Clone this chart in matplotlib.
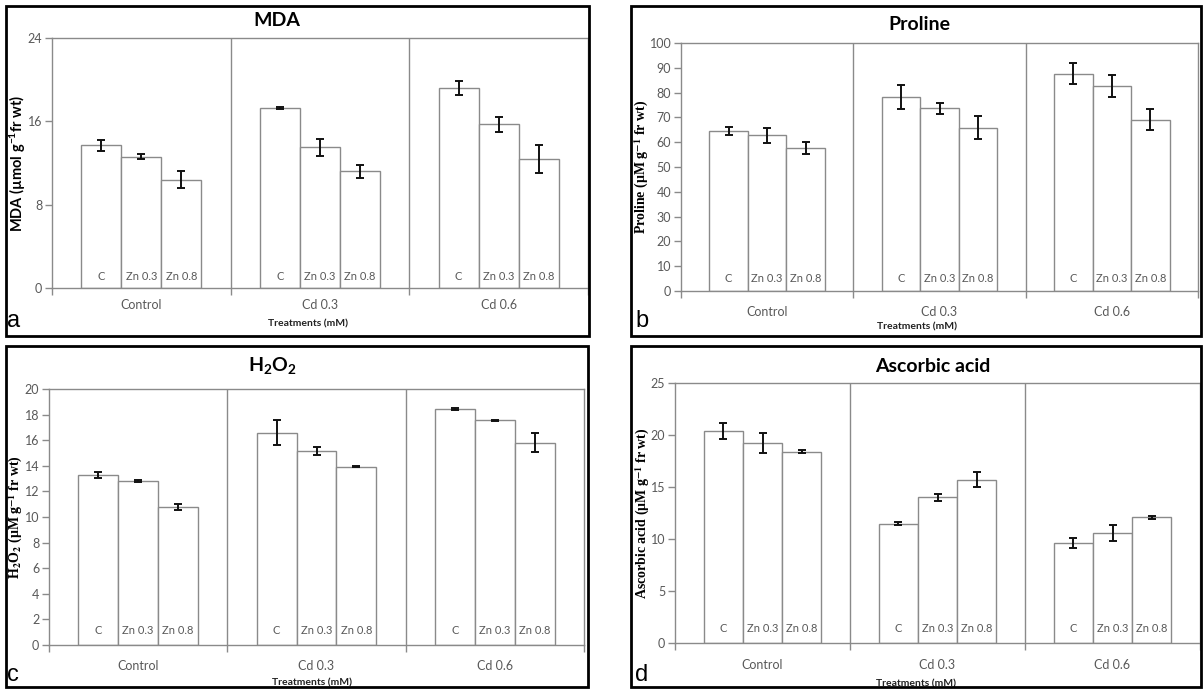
import matplotlib
matplotlib.use("Agg")
import matplotlib.pyplot as plt
from matplotlib.patches import Rectangle
from matplotlib.transforms import blended_transform_factory
import numpy as np

plt.rcParams['mathtext.fontset'] = 'custom'
plt.rcParams['mathtext.rm'] = 'Lato:bold'
plt.rcParams['mathtext.bf'] = 'Lato:bold'
plt.rcParams['mathtext.it'] = 'Lato:bold'

# ---------------- data ----------------
groups = ['Control', 'Cd 0.3', 'Cd 0.6']
subgroups = ['C', 'Zn 0.3', 'Zn 0.8']

mda = [[13.7, 12.6, 10.4], [17.3, 13.5, 11.2], [19.2, 15.7, 12.35]]
mda_err = [[0.55, 0.25, 0.8], [0.1, 0.8, 0.6], [0.7, 0.7, 1.35]]

proline = [[64.6, 62.8, 57.7], [78.1, 73.6, 65.9], [87.7, 82.6, 69.1]]
proline_err = [[1.6, 3.0, 2.3], [4.8, 2.4, 4.7], [4.2, 4.4, 4.3]]

h2o2 = [[13.28, 12.81, 10.76], [16.6, 15.16, 13.93], [18.44, 17.55, 15.8]]
h2o2_err = [[0.2, 0.06, 0.25], [0.95, 0.3, 0.05], [0.1, 0.06, 0.76]]

ascorbic = [[20.37, 19.22, 18.39], [11.48, 14.0, 15.7], [9.6, 10.56, 12.09]]
ascorbic_err = [[0.78, 0.93, 0.15], [0.12, 0.3, 0.7], [0.48, 0.78, 0.12]]

mda_ticks = [0, 8, 16, 24]
proline_ticks = list(range(0, 101, 10))
h2o2_ticks = list(range(0, 21, 2))
ascorbic_ticks = [0, 5, 10, 15, 20, 25]

# ---------------- figure ----------------
W, H = 1203, 691
fig = plt.figure(figsize=(W / 100, H / 100), dpi=100)
fig.patch.set_facecolor('white')

GRAY = '#8a8a8a'
TXT = '#595959'


def fx(x):
    return x / W


def fy(y):
    return 1 - y / H


def add_box(x0, y0, x1, y1):
    fig.patches.append(Rectangle((fx(x0), fy(y1)), fx(x1 - x0), (y1 - y0) / H,
                                 transform=fig.transFigure, fill=False,
                                 edgecolor='black', linewidth=2.0, zorder=10))


def panel(rect, vals, errs, ticks, ylabel, ylab_style, title, letter,
          box, title_xy, letter_xy, treat_xy, grp_y, sub_y, ylab_x):
    l, t, r, b = rect
    ax = fig.add_axes([fx(l), fy(b), fx(r - l), (b - t) / H])
    add_box(*box)
    bw = 0.224
    offs = [-bw, 0, bw]
    tr = blended_transform_factory(ax.transData, ax.transAxes)
    sub_frac = 1 - (sub_y - t) / (b - t)
    for gi in range(len(groups)):
        for si in range(len(subgroups)):
            xc = gi + 0.5 + offs[si]
            ax.bar(xc, vals[gi][si], width=bw, facecolor='white',
                   edgecolor=GRAY, linewidth=1.0, zorder=2)
            ax.errorbar(xc, vals[gi][si], yerr=errs[gi][si], fmt='none',
                        ecolor='#111111', elinewidth=1.4, capsize=3,
                        capthick=1.4, zorder=3)
            ax.text(xc, sub_frac, subgroups[si], ha='center', va='center',
                    transform=tr, fontsize=8, family='Lato', color=TXT)
    for xd in [1, 2]:
        ax.axvline(xd, color=GRAY, linewidth=1.0, zorder=1)
    ax.set_xlim(0, 3)
    ax.set_ylim(ticks[0], ticks[-1])
    ax.set_yticks(ticks)
    ax.set_xticks([0, 1, 2, 3])
    ax.set_xticklabels([])
    ax.tick_params(axis='both', direction='out', length=5, color=GRAY, width=1.0)
    ax.tick_params(axis='y', labelsize=9, labelcolor=TXT, pad=2)
    for lab in ax.get_yticklabels():
        lab.set_family('Lato')
    for sp in ax.spines.values():
        sp.set_color(GRAY)
        sp.set_linewidth(1.0)
    # group labels
    for gi, g in enumerate(groups):
        xpix = l + (gi + 0.5) / 3 * (r - l)
        fig.text(fx(xpix), fy(grp_y), g, ha='center', va='center',
                 fontsize=9, family='Lato', color=TXT)
    fig.text(fx(treat_xy[0]), fy(treat_xy[1]), 'Treatments (mM)', ha='center',
             va='center', fontsize=7.5, family='Lato', weight='bold', color='#222222')
    fig.text(fx(title_xy[0]), fy(title_xy[1]), title, ha='center', va='center',
             fontsize=14, family='Lato', weight='bold', color='black',
             math_fontfamily='custom')
    fig.text(fx(letter_xy[0]), fy(letter_xy[1]), letter, ha='left', va='center',
             fontsize=17, family='Liberation Sans', color='black')
    mid = (t + b) / 2
    if ylab_style == 'serif':
        fig.text(fx(ylab_x), fy(mid), ylabel, rotation=90, ha='center',
                 va='center', fontsize=10, family='Liberation Serif',
                 weight='bold', color='black', math_fontfamily='stix')
    else:
        fig.text(fx(ylab_x), fy(mid), ylabel, rotation=90, ha='center',
                 va='center', fontsize=10.5, family='Lato', weight='bold',
                 color='black', math_fontfamily='custom')
    return ax


panel((52, 38, 588, 288), mda, mda_err, mda_ticks,
      'MDA (\u00b5mol g$^{-1}$fr wt)', 'sans', 'MDA', 'a',
      (6, 6, 589, 336), (277, 21), (7, 321), (308, 324), 305, 277, 18)

panel((681, 43, 1198, 291), proline, proline_err, proline_ticks,
      'Proline (\u00b5M g$^{\\mathbf{-1}}$ fr wt)', 'serif', 'Proline', 'b',
      (631, 6, 1201, 336), (919, 24), (635, 321), (917, 327), 312, 278, 642)

panel((49, 389, 584, 645), h2o2, h2o2_err, h2o2_ticks,
      'H$_{\\mathbf{2}}$O$_{\\mathbf{2}}$ (\u00b5M g$^{\\mathbf{-1}}$ fr wt)', 'serif',
      r'$\mathrm{H_2O_2}$', 'c',
      (6, 346, 588, 687), (272, 366), (7, 675), (312, 683), 666, 630, 16)

panel((675, 383, 1200, 643), ascorbic, ascorbic_err, ascorbic_ticks,
      'Ascorbic acid (\u00b5M g$^{\\mathbf{-1}}$ fr wt)', 'serif', 'Ascorbic acid', 'd',
      (631, 346, 1201, 687), (933, 366), (635, 675), (916, 684), 665, 628, 643)

fig.savefig('out.png', dpi=100, facecolor='white')
